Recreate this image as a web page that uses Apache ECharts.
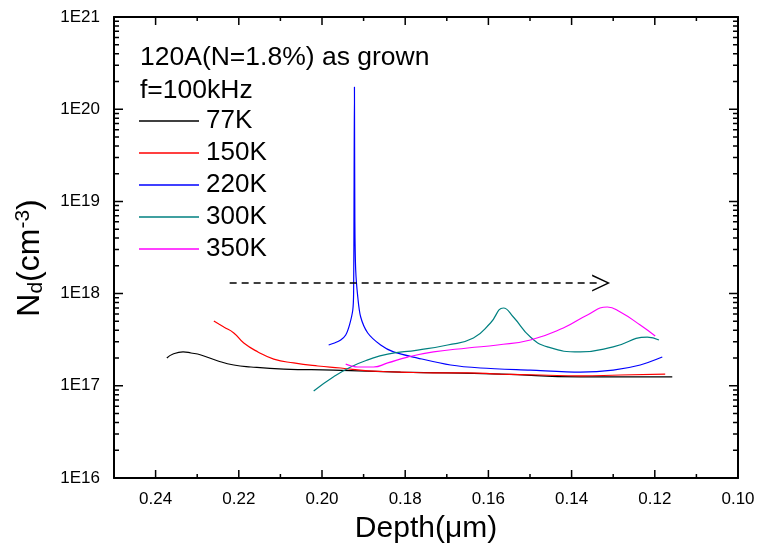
<!DOCTYPE html>
<html>
<head>
<meta charset="utf-8">
<script src="https://cdn.jsdelivr.net/npm/echarts@6/dist/echarts.min.js"></script>
<style>
  html, body { margin: 0; padding: 0; background: #fff; }
  #chart { width: 760px; height: 551px; }
</style>
</head>
<body>
<div id="chart"></div>
<script>
// ---- data (depth in um, Nd in cm^-3) ----
const seriesNames = ['77K', '150K', '220K', '300K', '350K'];
const seriesColors = ['#000000', '#ff0000', '#0000ff', '#008080', '#ff00ff'];

const depth77 = [0.2373, 0.2358, 0.2334, 0.2315, 0.2291, 0.2250, 0.2212, 0.2171, 0.2092, 0.1972, 0.1811, 0.1571, 0.1379, 0.1158];
const nd77    = [2.00e17, 2.21e17, 2.33e17, 2.27e17, 2.16e17, 1.86e17, 1.68e17, 1.60e17, 1.52e17, 1.48e17, 1.41e17, 1.34e17, 1.25e17, 1.25e17];

const depth150 = [0.2260, 0.2248, 0.2236, 0.2212, 0.2188, 0.2154, 0.2116, 0.2068, 0.2010, 0.1955, 0.1890, 0.1811, 0.1732, 0.1650, 0.1571, 0.1475, 0.1379, 0.1283, 0.1175];
const nd150    = [5.05e17, 4.68e17, 4.34e17, 3.74e17, 2.91e17, 2.33e17, 1.95e17, 1.77e17, 1.64e17, 1.56e17, 1.45e17, 1.41e17, 1.38e17, 1.38e17, 1.34e17, 1.31e17, 1.28e17, 1.31e17, 1.34e17];

const depth220 = [0.1984, 0.1970, 0.1955, 0.1943, 0.1934, 0.1926, 0.1924, 0.1923, 0.1922, 0.1921, 0.1919, 0.1914, 0.1907, 0.1890, 0.1859, 0.1828, 0.1770, 0.1691, 0.1619, 0.1499, 0.1379, 0.1300, 0.1235, 0.1182];
const nd220    = [2.77e17, 2.91e17, 3.14e17, 3.56e17, 4.56e17, 6.64e17, 1.02e18, 1.04e19, 1.74e20, 6.1e18, 1.80e18, 9.19e17, 5.57e17, 3.74e17, 2.77e17, 2.33e17, 2.00e17, 1.68e17, 1.56e17, 1.48e17, 1.41e17, 1.48e17, 1.68e17, 2.05e17];

const depth300 = [0.2020, 0.1972, 0.1931, 0.1890, 0.1842, 0.1770, 0.1698, 0.1636, 0.1595, 0.1564, 0.1540, 0.1499, 0.1458, 0.1379, 0.1300, 0.1218, 0.1190];
const nd300    = [8.79e16, 1.25e17, 1.60e17, 1.91e17, 2.21e17, 2.44e17, 2.77e17, 3.30e17, 4.80e17, 6.98e17, 5.57e17, 3.38e17, 2.64e17, 2.33e17, 2.64e17, 3.38e17, 3.14e17];

const depth350 = [0.1943, 0.1929, 0.1914, 0.1876, 0.1842, 0.1794, 0.1732, 0.1650, 0.1578, 0.1499, 0.1420, 0.1362, 0.1314, 0.1283, 0.1235, 0.1199];
const nd350    = [1.72e17, 1.64e17, 1.60e17, 1.60e17, 1.77e17, 2.05e17, 2.33e17, 2.57e17, 2.77e17, 3.14e17, 4.24e17, 5.86e17, 7.16e17, 6.31e17, 4.56e17, 3.47e17];

// dashed arrow annotation
const arrowDepth = [0.2222, 0.1329];
const arrowLevel = 1.3e18;

// axis ticks / labels
const xTickLabels = ['0.10', '0.12', '0.14', '0.16', '0.18', '0.20', '0.22', '0.24'];
const xMajorTicks = [0.10, 0.12, 0.14, 0.16, 0.18, 0.20, 0.22, 0.24];
const xMinorTicks = [0.11, 0.13, 0.15, 0.17, 0.19, 0.21, 0.23];
const yTickLabels = ['1E16', '1E17', '1E18', '1E19', '1E20', '1E21'];
const yDecades = [1e16, 1e17, 1e18, 1e19, 1e20, 1e21];
const minorMultipliers = [2, 3, 4, 5, 6, 7, 8, 9];

const titleLine1 = '120A(N=1.8%) as grown';
const titleLine2 = 'f=100kHz';
const xTitle = 'Depth(\u03bcm)';

// ---- build ----
const FONT = 'Arial, "Liberation Sans", Helvetica, sans-serif';
const X_MIN = 0.10, X_MAX = 0.25, Y_MIN = 1e16, Y_MAX = 1e21;
const yMinorTicks = [];
for (let i = 0; i < yDecades.length - 1; i++) {
  for (const m of minorMultipliers) yMinorTicks.push(m * yDecades[i]);
}
function zip(a, b) { return a.map((v, i) => [v, b[i]]); }
const seriesData = [zip(depth77, nd77), zip(depth150, nd150), zip(depth220, nd220), zip(depth300, nd300), zip(depth350, nd350)];

// tick-mark segments (inward), expressed on the axes themselves
const PLOT_W = 624, PLOT_H = 461;                   // plot size in px (grid)
const xSpanPerPx = (X_MAX - X_MIN) / PLOT_W;
const decadesPerPx = 5 / PLOT_H;
const tickSegs = [];
function seg(a, b) { tickSegs.push(a, b, '-'); }
xMajorTicks.forEach(v => {
  seg([v, Y_MIN], [v, Y_MIN * Math.pow(10, 8 * decadesPerPx)]);
  seg([v, Y_MAX], [v, Y_MAX / Math.pow(10, 8 * decadesPerPx)]);
});
xMinorTicks.forEach(v => {
  seg([v, Y_MIN], [v, Y_MIN * Math.pow(10, 4 * decadesPerPx)]);
  seg([v, Y_MAX], [v, Y_MAX / Math.pow(10, 4 * decadesPerPx)]);
});
yDecades.forEach(v => {
  seg([X_MAX, v], [X_MAX - 9 * xSpanPerPx, v]);
  seg([X_MIN, v], [X_MIN + 9 * xSpanPerPx, v]);
});
yMinorTicks.forEach(v => {
  seg([X_MAX, v], [X_MAX - 5 * xSpanPerPx, v]);
  seg([X_MIN, v], [X_MIN + 5 * xSpanPerPx, v]);
});

const series = seriesNames.map((name, i) => ({
  name: name, type: 'line', xAxisIndex: 0, yAxisIndex: 0,
  data: seriesData[i], showSymbol: false, symbol: 'none',
  smooth: 0.5,
  color: seriesColors[i],
  lineStyle: { color: seriesColors[i], width: 1.2 },
  itemStyle: { color: seriesColors[i] },
  z: 3
}));
series[2].smooth = 0.3;
series[0].markLine = {
  silent: true, animation: false,
  symbol: ['none', 'path://M0,100 L50,0 L100,100 L90,100 L50,18 L10,100 Z'],
  symbolSize: [17, 18],
  label: { show: false },
  lineStyle: { type: [7, 5], color: '#000', width: 1.6 },
  data: [[{ coord: [arrowDepth[0], arrowLevel] }, { coord: [arrowDepth[1], arrowLevel] }]]
};
series.push({
  name: 'axisTicks', type: 'line', xAxisIndex: 0, yAxisIndex: 0,
  data: tickSegs, showSymbol: false, symbol: 'none', connectNulls: false,
  smooth: false, silent: true, clip: false, z: 4,
  lineStyle: { color: '#000', width: 1.5 }, itemStyle: { color: '#000' }
});

const axisLineStyle = { show: true, onZero: false, lineStyle: { color: '#000', width: 2 } };

const option = {
  animation: false,
  backgroundColor: '#ffffff',
  grid: { left: 114, right: 22, top: 17, bottom: 73 },
  xAxis: [
    {
      type: 'value', min: X_MIN, max: X_MAX, inverse: true, position: 'bottom', interval: 0.02,
      axisLine: axisLineStyle, axisTick: { show: false }, splitLine: { show: false },
      axisLabel: {
        show: true, margin: 13, fontSize: 17, color: '#000', fontFamily: FONT,
        formatter: function (v) {
          const s = v.toFixed(2);
          return xTickLabels.indexOf(s) >= 0 ? s : '';
        }
      },
      name: xTitle, nameLocation: 'middle', nameGap: 36,
      nameTextStyle: { fontSize: 30, color: '#000', fontFamily: FONT }
    },
    {
      type: 'value', min: X_MIN, max: X_MAX, inverse: true, position: 'top', interval: 0.02,
      axisLine: axisLineStyle, axisTick: { show: false }, axisLabel: { show: false }, splitLine: { show: false }
    }
  ],
  yAxis: [
    {
      type: 'log', logBase: 10, min: Y_MIN, max: Y_MAX, position: 'left',
      axisLine: axisLineStyle, axisTick: { show: false }, splitLine: { show: false },
      axisLabel: {
        show: true, margin: 14, fontSize: 17, color: '#000', fontFamily: FONT,
        formatter: function (v) {
          const idx = yDecades.findIndex(d => Math.abs(Math.log10(d) - Math.log10(v)) < 1e-6);
          return idx >= 0 ? yTickLabels[idx] : '';
        }
      }
    },
    {
      type: 'log', logBase: 10, min: Y_MIN, max: Y_MAX, position: 'right',
      axisLine: axisLineStyle, axisTick: { show: false }, axisLabel: { show: false }, splitLine: { show: false }
    }
  ],
  legend: {
    data: seriesNames, orient: 'vertical', left: 139, top: 108, padding: 0,
    itemWidth: 60, itemHeight: 1.5, icon: 'rect', itemGap: 6,
    textStyle: { fontSize: 26, lineHeight: 26, color: '#000', fontFamily: FONT, padding: [0, 0, 0, 2] }
  },
  graphic: [
    { type: 'text', left: 140, top: 44, style: { text: titleLine1, fontSize: 26.5, fill: '#000', fontFamily: FONT } },
    { type: 'text', left: 140, top: 77, style: { text: titleLine2, fontSize: 26.5, fill: '#000', fontFamily: FONT } },
    {
      type: 'text', x: 30, y: 258, rotation: Math.PI / 2,
      style: {
        text: '{n|N}{s|d}{n|(cm}{p|-3}{n|)}',
        align: 'center', verticalAlign: 'middle', fill: '#000', fontFamily: FONT,
        rich: {
          n: { fontSize: 32, lineHeight: 34, fontFamily: FONT, fill: '#000' },
          s: { fontSize: 21, lineHeight: 21, verticalAlign: 'bottom', fontFamily: FONT, fill: '#000' },
          p: { fontSize: 21, lineHeight: 21, verticalAlign: 'top', fontFamily: FONT, fill: '#000' }
        }
      }
    }
  ],
  series: series
};

const chart = echarts.init(document.getElementById('chart'), null, { renderer: 'canvas' });
chart.setOption(option);
</script>
</body>
</html>
